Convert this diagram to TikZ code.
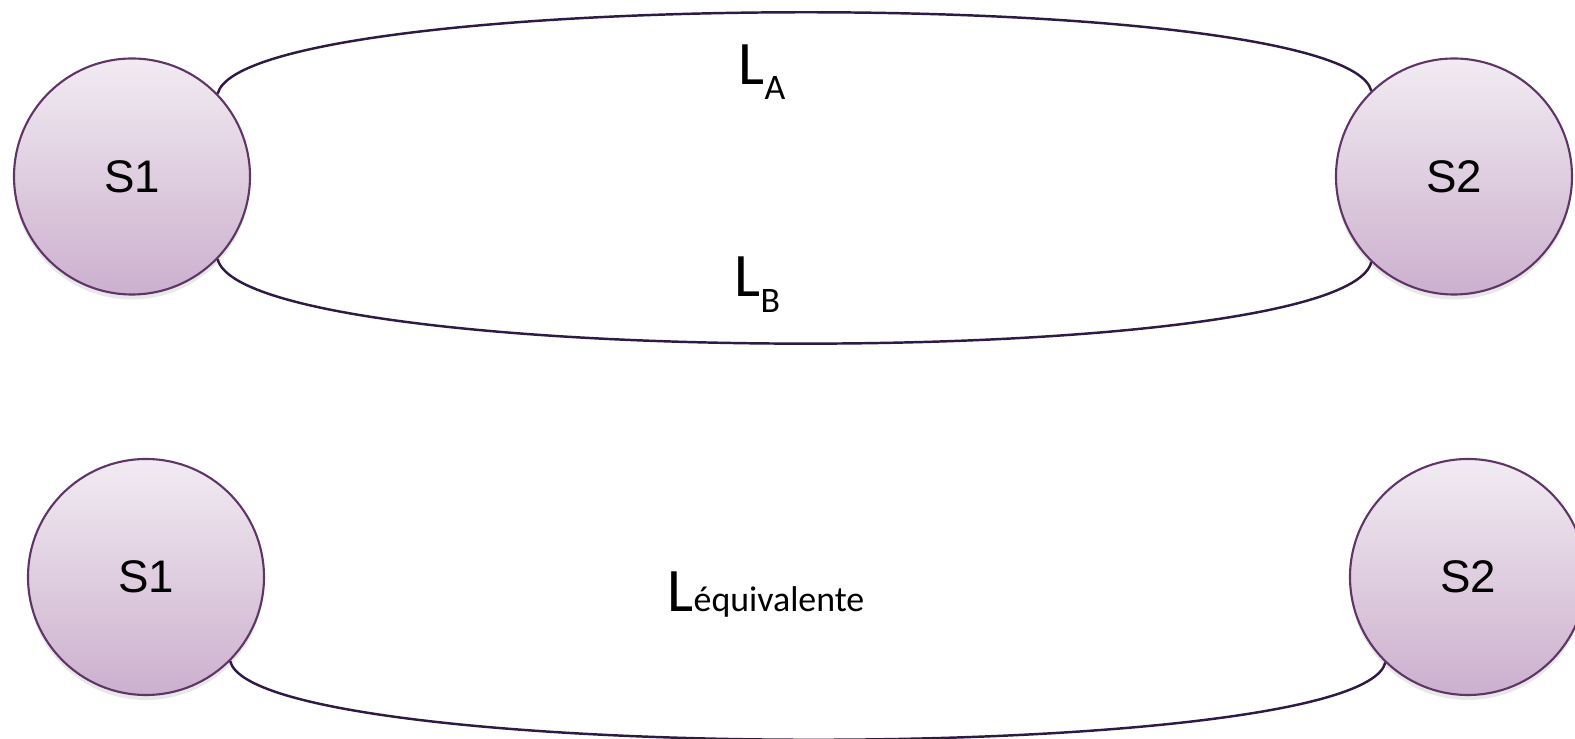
\documentclass[tikz,border=0pt]{standalone}
\usepackage{fontspec}
\setmainfont{Liberation Sans}
\newfontfamily\lfont{Carlito}
\usepackage{tikz}
\usetikzlibrary{positioning, shadows}
\definecolor{plum}{HTML}{5E3566}
\definecolor{plumtop}{HTML}{F2EBF2}
\definecolor{plumbot}{HTML}{CCB0CE}
\definecolor{wire}{HTML}{2E1A45}

% big L with a small index
\newcommand{\lname}[2]{{\lfont\fontsize{17.6}{20}\selectfont L\fontsize{10.2}{12}\selectfont\raisebox{#1}{#2}}}

\begin{document}
\begin{tikzpicture}[
  station/.style={circle, draw=plum, line width=0.6pt, minimum size=2.36cm,
                  inner sep=0pt, top color=plumtop, bottom color=plumbot,
                  font=\fontsize{13}{15}\selectfont,
                  drop shadow={shadow xshift=0pt, shadow yshift=-0.5mm, opacity=0.18}},
  link/.style={draw=wire, line width=0.7pt},
  lbl/.style={inner sep=0pt, anchor=base west}
]
\useasboundingbox (0,0) rectangle (15.75,7.39);

% two lines in parallel
\node[station] (s1a) at (1.32,5.625)  {S1};
\node[station] (s2a) at (14.54,5.625) {S2};

\draw[link] (s1a.44) .. controls +(76:1.1) and +(104:1.1) .. (s2a.134);
\draw[link] (s1a.-44) .. controls +(-76:1.14) and +(-104:1.14) .. (s2a.-134);

\node[lbl] (la) at (7.38,6.54) {\lname{-0.15cm}{A}};
\node[lbl] (lb) at (7.34,4.42) {\lname{-0.16cm}{B}};

% one equivalent line
\node[station] (s1b) at (1.46,1.62)  {S1};
\node[station] (s2b) at (14.68,1.62) {S2};

\draw[link] (s1b.-45) .. controls +(-76:1.07) and +(-104:1.07) .. (s2b.-134);

\node[lbl] (leq) at (6.67,1.27) {\lname{0pt}{équivalente}};

\end{tikzpicture}
\end{document}
